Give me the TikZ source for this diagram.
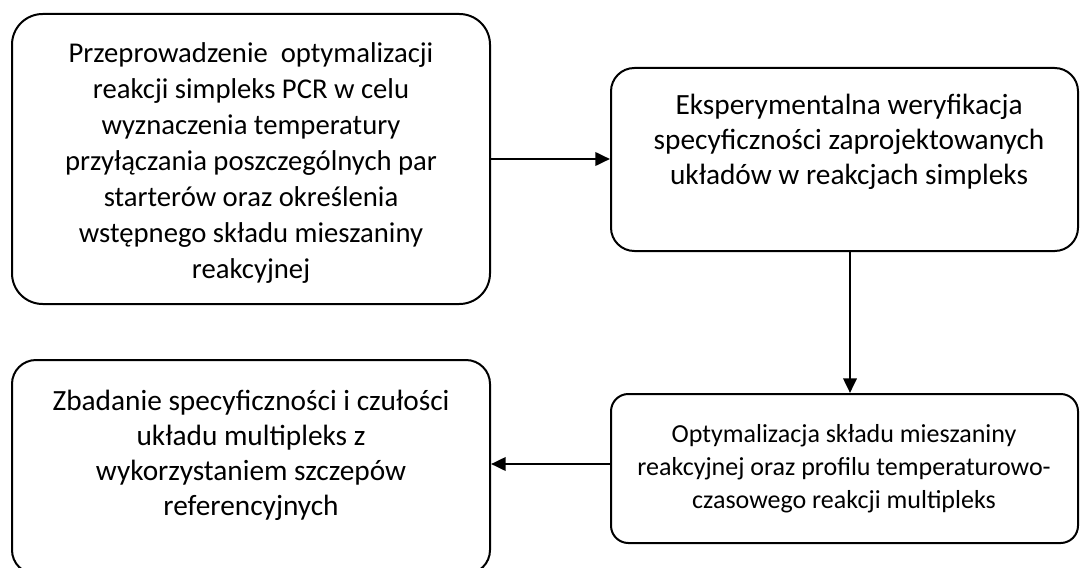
\documentclass[tikz,border=0pt]{standalone}
\usepackage{fontspec}
\setmainfont{Carlito}
\usetikzlibrary{fit,arrows.meta}
\tikzset{
  box/.style={draw=black, line width=1.5pt, inner sep=0pt, fill=none},
  txtA/.style={align=center, inner sep=0pt, font=\fontsize{21.5}{27}\selectfont},
  txtB/.style={align=center, inner sep=0pt, font=\fontsize{22}{26.25}\selectfont},
  txtC/.style={align=center, inner sep=0pt, font=\fontsize{19.5}{24.75}\selectfont},
  conn/.style={line width=2pt, -{Triangle[length=11pt,width=10pt]}}
}
\begin{document}
\begin{tikzpicture}[x=0.75pt,y=-0.75pt]
\useasboundingbox (0,0) rectangle (1080,567);
\coordinate (b1a) at (12,14);  \coordinate (b1b) at (490,304);
\coordinate (b2a) at (611,68); \coordinate (b2b) at (1078,251);
\coordinate (b3a) at (611,394); \coordinate (b3b) at (1078,543);
\coordinate (b4a) at (12,360); \coordinate (b4b) at (490,574);
\node[box, rounded corners=23pt, fit=(b1a)(b1b)] (b1) {};
\node[box, rounded corners=17.5pt, fit=(b2a)(b2b)] (b2) {};
\node[box, rounded corners=13pt, fit=(b3a)(b3b)] (b3) {};
\node[box, rounded corners=18pt, fit=(b4a)(b4b)] (b4) {};
\node[txtA] (t1) at (251,163) {Przeprowadzenie\ \ optymalizacji\\reakcji simpleks PCR w celu\\wyznaczenia temperatury\\przyłączania poszczególnych par\\starterów oraz określenia\\wstępnego składu mieszaniny\\reakcyjnej};
\node[txtB] (t2) at (849,142) {Eksperymentalna weryfikacja\\specyficzności zaprojektowanych\\układów w reakcjach simpleks};
\node[txtC] (t3) at (844,469) {Optymalizacja składu mieszaniny\\reakcyjnej oraz profilu temperaturowo-\\czasowego reakcji multipleks};
\node[txtB] (t4) at (251,455) {Zbadanie specyficzności i czułości\\układu multipleks z\\wykorzystaniem szczepów\\referencyjnych};
\draw[conn] (b1.east |- 0,159) -- (b2.west |- 0,159);
\draw[conn] (b2.south -| 850,0) -- (b3.north -| 850,0);
\draw[conn] (b3.west |- 0,464) -- (b4.east |- 0,464);
\end{tikzpicture}
\end{document}
